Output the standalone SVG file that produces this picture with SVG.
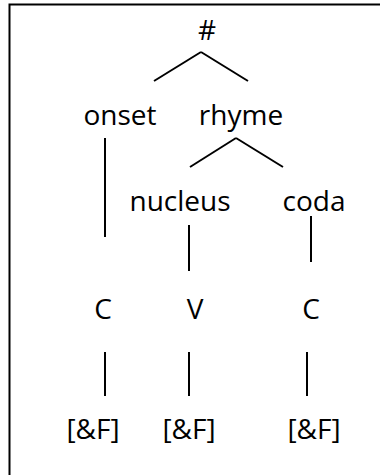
<svg xmlns="http://www.w3.org/2000/svg" width="380" height="475" viewBox="0 0 380 475">
<style>
text{font-family:"Open Sans","Liberation Sans",sans-serif;font-size:28px;fill:#000;text-anchor:middle}
.c line{stroke:#000;stroke-width:2}
</style>
<rect width="380" height="475" fill="#fff"/>
<path d="M9.5 475 V4.5 H380" fill="none" stroke="#000" stroke-width="2"/>
<g class="c" id="connectors">
<line x1="154" y1="81" x2="201" y2="52"/>
<line x1="201" y1="52" x2="248" y2="81"/>
<line x1="105" y1="138" x2="105" y2="237"/>
<line x1="190" y1="167" x2="236" y2="138"/>
<line x1="236" y1="138" x2="283" y2="167"/>
<line x1="189" y1="225" x2="189" y2="271"/>
<line x1="311" y1="216" x2="311" y2="262"/>
<line x1="105" y1="352" x2="105" y2="396"/>
<line x1="189" y1="352" x2="189" y2="396"/>
<line x1="307" y1="352" x2="307" y2="396"/>
</g>
<g id="root"><text x="207" y="40">#</text></g>
<g id="onset"><text x="120" y="125">onset</text></g>
<g id="rhyme"><text x="241" y="125">rhyme</text></g>
<g id="nucleus"><text x="180" y="211">nucleus</text></g>
<g id="coda"><text x="314" y="211">coda</text></g>
<g id="c1"><text x="103" y="319">C</text></g>
<g id="v"><text x="195" y="319">V</text></g>
<g id="c2"><text x="311" y="319">C</text></g>
<g id="f1"><text x="93" y="439">[&amp;F]</text></g>
<g id="f2"><text x="189" y="439">[&amp;F]</text></g>
<g id="f3"><text x="314" y="439">[&amp;F]</text></g>
</svg>
